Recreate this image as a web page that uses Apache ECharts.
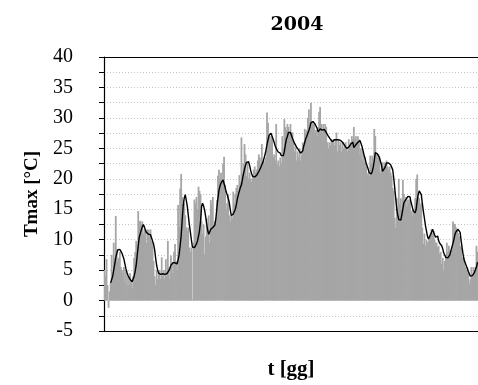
<!DOCTYPE html>
<html><head><meta charset="utf-8">
<script src="https://cdn.jsdelivr.net/npm/echarts@6/dist/echarts.min.js"></script>
<style>html,body{margin:0;padding:0;background:#fff}#c{width:478px;height:385px}</style>
</head><body><div id="c"></div>
<script>
// Daily Tmax bars (°C), 2004, by month
const janT = [5.0,4.0,6.8,2.5,-1.2,1.5,3.0,7.5,4.0,9.5,7.0,13.9,8.5,6.5,7.0,8.0,5.5,5.0,4.5,5.5,3.0,5.0,2.5,4.0,2.5,4.5,3.0,2.0,4.0,7.0,8.0];
const febT = [9.8,9.0,14.7,13.0,13.1,12.5,13.0,11.0,11.7,11.5,9.5,11.7,11.6,10.5,11.7,9.8,9.5,6.5,4.0,2.6,5.0,3.5,4.5,5.0,3.5,7.1,4.0,5.0,3.5];
const marT = [6.8,4.0,9.8,5.5,3.5,7.4,6.0,4.5,8.0,9.3,6.5,5.0,15.7,12.0,18.4,20.8,17.0,16.5,16.0,14.0,12.0,11.5,12.0,8.7,8.0,8.7,0.2,9.5,16.6,16.0,17.0];
const aprT = [15.0,18.7,18.0,17.5,13.0,11.0,12.5,7.6,10.5,13.5,12.0,14.0,9.5,16.5,15.8,17.0,12.5,13.0,12.5,16.5,20.5,21.5,20.0,21.0,19.5,22.5,23.6,19.0,15.0,16.0];
const mayT = [17.5,14.0,13.0,14.0,13.5,17.9,16.0,17.5,18.5,19.0,18.0,20.6,19.5,26.8,21.0,22.5,25.7,24.0,20.5,22.8,20.0,21.0,20.0,19.5,20.5,21.5,22.0,21.0,21.5,23.0,24.0];
const junT = [23.5,22.5,25.7,22.0,23.0,22.5,23.5,30.9,29.2,27.0,26.0,27.0,26.5,23.5,24.0,23.0,29.0,22.3,23.0,22.0,23.5,22.5,27.0,25.0,29.8,28.5,28.0,29.0,28.5,27.5];
const julT = [29.0,27.5,27.6,26.0,24.5,25.2,23.0,24.5,23.5,25.0,23.0,24.0,26.0,25.5,28.2,27.5,28.0,30.0,31.4,28.0,32.5,29.5,29.0,29.0,27.6,28.0,27.0,28.5,31.0,31.8,29.0];
const augT = [27.6,29.0,28.0,29.0,28.5,26.0,25.0,26.0,25.5,26.5,26.0,26.5,25.5,26.5,27.6,24.5,26.5,25.5,26.0,24.5,26.0,25.0,25.5,26.0,25.0,24.5,26.5,25.5,26.0,27.0,26.5];
const sepT = [28.5,26.5,27.0,26.0,27.0,26.5,24.0,25.0,23.0,24.5,22.7,23.5,22.0,20.6,21.0,20.5,23.8,22.5,23.8,22.0,28.2,27.0,24.0,23.5,24.0,23.5,21.0,21.5,22.7,22.0];
const octT = [22.7,22.5,23.0,22.0,21.5,22.0,21.0,20.5,18.5,18.0,13.6,12.0,16.8,15.5,20.0,16.0,16.8,15.0,19.8,17.5,16.5,17.0,15.5,16.6,16.0,16.6,14.7,14.0,15.0,14.5,16.8];
const novT = [20.0,20.7,17.0,16.8,15.7,16.0,12.0,9.3,11.0,9.0,10.0,9.5,9.8,10.5,11.0,11.7,11.0,11.5,10.0,9.5,9.5,8.8,9.0,7.7,8.0,6.0,7.0,4.9,6.5,7.5];
const decT = [9.5,8.0,9.0,8.2,7.5,8.5,13.0,12.6,12.5,12.0,11.5,11.1,10.5,9.0,8.7,7.1,6.5,7.0,5.5,5.0,5.5,4.5,2.8,3.5,5.5,4.0,5.5,5.0,5.5,9.0,8.0];

// 7-day moving average line (°C), by month
const janM = [null,null,null,null,null,null,2.9,2.7,4.0,5.0,6.0,7.0,7.8,8.3,8.6,8.4,8.1,7.8,7.5,6.8,6.0,5.2,4.6,4.1,3.8,3.5,3.3,3.1,3.4,4.0,4.8];
const febM = [5.8,7.4,9.0,10.4,11.0,11.6,12.1,12.5,12.1,11.6,11.2,10.9,10.9,10.8,10.8,10.3,9.8,9.3,8.4,7.0,5.8,5.0,4.5,4.2,4.3,4.4,4.4,4.4,4.3];
const marM = [4.3,4.4,4.5,4.9,5.3,5.8,6.0,6.2,6.3,6.2,6.1,6.0,6.7,7.5,9.0,10.6,13.2,15.5,16.8,17.4,16.5,15.5,14.0,12.5,11.3,10.0,8.8,8.7,8.7,8.9,9.3];
const aprM = [9.8,10.6,11.5,13.0,15.5,16.0,15.5,14.8,13.8,12.6,11.5,10.9,11.3,11.7,11.8,12.0,12.1,12.4,13.5,15.2,16.8,18.1,18.8,19.3,19.6,19.8,19.5,18.6,17.9,17.4];
const mayM = [16.8,16.2,15.0,14.0,14.0,14.2,14.4,15.0,15.7,16.7,17.4,18.0,18.6,19.0,19.9,20.8,21.6,22.2,22.7,22.9,22.8,22.2,21.4,20.8,20.4,20.3,20.3,20.3,20.6,20.9,21.2];
const junM = [21.5,21.9,22.3,22.7,23.0,23.9,24.7,25.6,26.4,27.1,27.4,27.5,27.0,26.5,26.0,25.4,25.0,24.7,24.4,24.5,24.2,23.8,23.8,23.8,24.5,25.6,26.5,27.0,27.6,27.6];
const julM = [27.6,27.3,26.6,26.2,25.8,25.5,25.2,24.9,24.7,24.4,24.2,24.0,24.6,25.4,26.0,26.6,27.0,27.5,27.9,28.5,29.2,29.5,29.4,29.2,29.0,28.8,28.3,27.7,27.9,28.2,28.1];
const augM = [28.0,28.3,28.1,27.9,27.6,27.4,27.0,26.7,26.5,26.3,26.1,26.2,26.4,26.4,26.4,26.4,26.4,26.4,26.3,26.1,26.0,25.8,25.5,25.2,25.0,24.9,25.2,25.5,25.7,25.9,26.0];
const sepM = [25.1,25.3,25.6,25.8,26.0,26.2,26.3,25.8,25.3,24.6,23.9,23.3,22.6,22.1,21.6,21.0,20.9,20.8,21.2,21.9,23.0,24.3,24.3,24.1,23.8,23.5,23.2,22.3,21.2,21.4];
const octM = [21.7,22.1,22.6,22.7,22.6,22.5,22.3,22.0,21.5,20.2,18.5,16.8,15.0,14.0,13.3,13.0,13.2,14.1,15.1,16.1,16.4,16.6,16.8,17.1,17.4,17.0,16.1,15.5,14.8,14.6,14.4];
const novM = [15.0,16.4,17.4,18.0,17.8,17.4,16.0,14.7,13.6,12.4,11.5,10.6,10.1,10.3,10.8,11.2,11.7,11.6,10.8,10.4,10.5,10.6,9.8,9.4,9.2,9.0,8.5,7.8,7.5,7.1];
const decM = [7.0,7.0,7.1,7.5,8.2,8.8,9.4,10.1,10.9,11.3,11.6,11.7,11.5,11.2,9.8,8.6,7.5,6.6,6.2,5.7,5.3,4.8,4.4,4.0,4.0,4.1,4.3,4.6,4.9,5.5,6.3];

const yTicks = { min: -5, max: 40, step: 5 };

const tmax = [].concat(janT,febT,marT,aprT,mayT,junT,julT,augT,sepT,octT,novT,decT);
const mavg = [].concat(janM,febM,marM,aprM,mayM,junM,julM,augM,sepM,octM,novM,decM);
const days = tmax.map((_, i) => String(i + 1));

const serif = 'Liberation Serif, DejaVu Serif, serif';
const chart = echarts.init(document.getElementById('c'), null, { renderer: 'canvas' });
chart.setOption({
  animation: false,
  backgroundColor: '#fff',
  title: {
    text: '2004', left: 292, top: 11, textAlign: 'center',
    textStyle: { fontFamily: 'DejaVu Serif, serif', fontWeight: 'bold', fontSize: 19, color: '#000' }
  },
  grid: { left: 104, right: -2, top: 57, bottom: 50, containLabel: false },
  xAxis: [{
    type: 'category', data: days, boundaryGap: true, position: 'bottom',
    name: 't [gg]', nameLocation: 'middle', nameGap: 28,
    nameTextStyle: { fontFamily: serif, fontWeight: 'bold', fontSize: 21, color: '#000' },
    axisLine: { show: true, onZero: false, lineStyle: { color: '#000', width: 1.2 } },
    axisTick: { show: false }, axisLabel: { show: false }, splitLine: { show: false }
  }, {
    type: 'category', data: days, boundaryGap: true, position: 'top',
    axisLine: { show: true, onZero: false, lineStyle: { color: '#000', width: 1.2 } },
    axisTick: { show: false }, axisLabel: { show: false }, splitLine: { show: false }
  }],
  yAxis: {
    type: 'value', min: yTicks.min, max: yTicks.max, interval: yTicks.step,
    name: 'Tmax [°C]', nameLocation: 'middle', nameGap: 62,
    nameTextStyle: { fontFamily: serif, fontWeight: 'bold', fontSize: 19, color: '#000' },
    axisLine: { show: true, onZero: false, lineStyle: { color: '#000', width: 1.2 } },
    axisTick: { show: true, length: 5, lineStyle: { color: '#000' } },
    minorTick: { show: true, splitNumber: 2, length: 5, lineStyle: { color: '#000' } },
    axisLabel: { margin: 31, fontFamily: serif, fontSize: 20, color: '#000' },
    splitLine: { show: true, lineStyle: { color: '#c4c4c4', type: [1, 2], width: 1 } },
    minorSplitLine: { show: true, lineStyle: { color: '#c4c4c4', type: [1, 2], width: 1 } }
  },
  series: [
    { type: 'bar', data: tmax, barWidth: 1.8, barGap: '-100%', itemStyle: { color: '#a6a6a6' }, silent: true },
    { type: 'line', data: mavg, showSymbol: false, symbol: 'none', connectNulls: false,
      lineStyle: { color: '#000', width: 1.4 }, silent: true, z: 5 }
  ]
});
</script></body></html>
